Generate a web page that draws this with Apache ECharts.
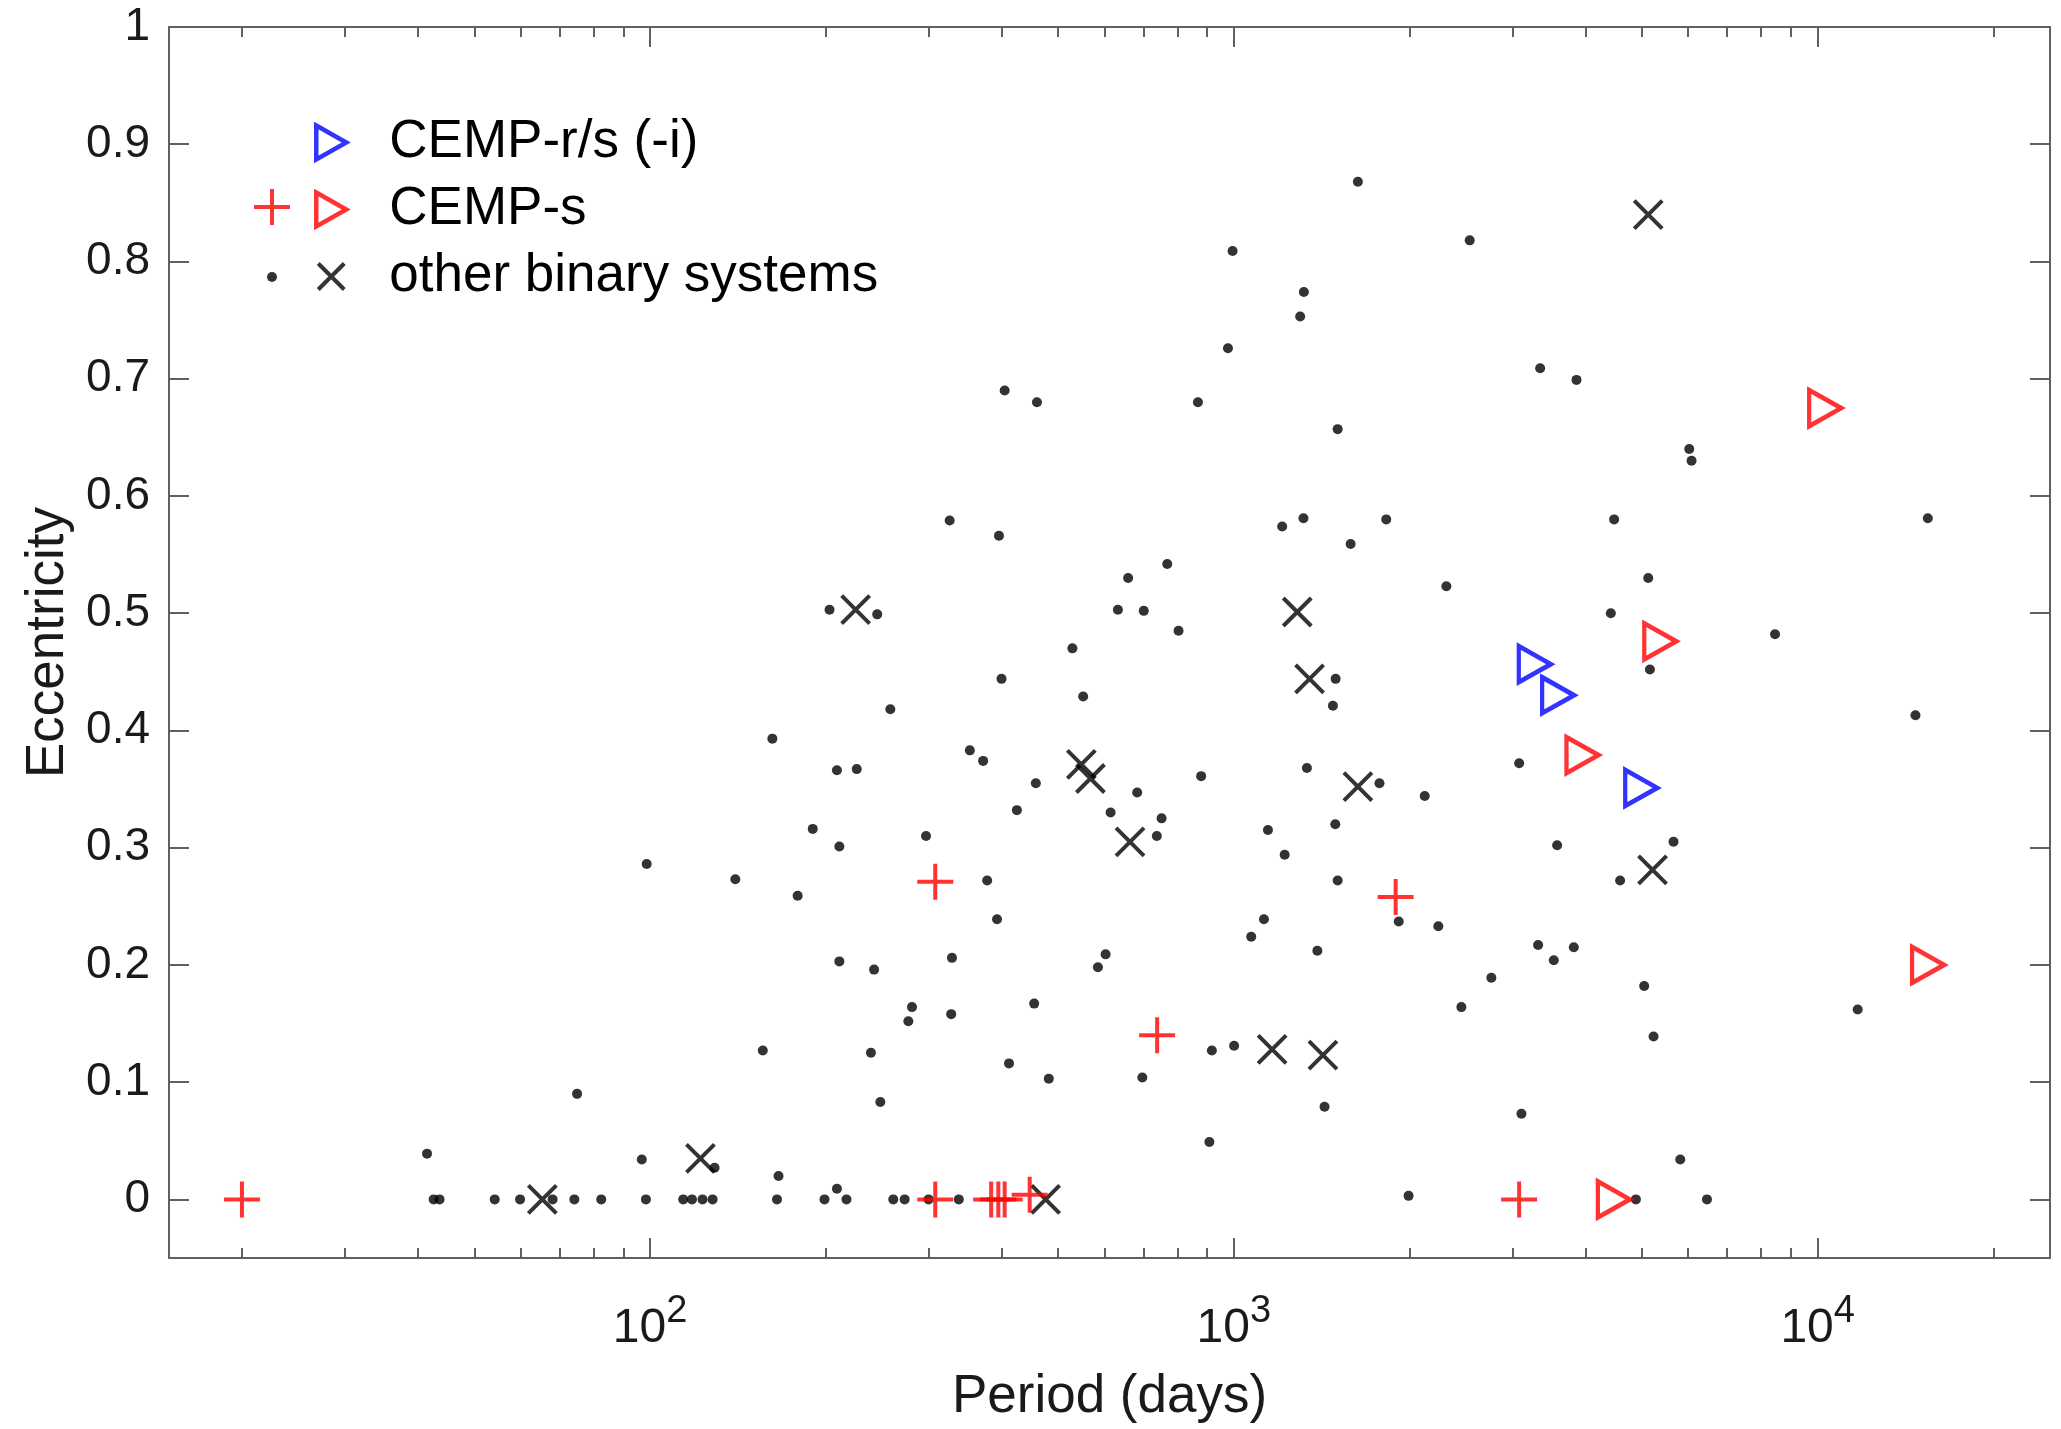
<!DOCTYPE html>
<html>
<head>
<meta charset="utf-8">
<script src="https://cdn.jsdelivr.net/npm/echarts@6/dist/echarts.min.js"></script>
<style>
html,body{margin:0;padding:0;background:#fff;}
#chart{width:2061px;height:1429px;}
</style>
</head>
<body>
<div id="chart"></div>
<script>
// ---------------- data (period in days, eccentricity) ----------------
const otherDots = [
  [405,0.690],[460,0.680],[1631,0.868],[995,0.809],[2535,0.818],[1318,0.774],[1299,0.753],
  [977,0.726],[868,0.680],[1506,0.657],[3347,0.709],[3863,0.699],
  [326,0.579],[396,0.566],[203,0.503],[245,0.499],[529,0.470],[400,0.444],[552,0.429],
  [258,0.418],[162,0.393],[353,0.383],[372,0.374],[209,0.366],[226,0.367],[458,0.355],
  [425,0.332],[615,0.330],[190,0.316],[297,0.310],[211,0.301],
  [1210,0.574],[1316,0.581],[1824,0.580],[1585,0.559],[769,0.542],[659,0.530],[633,0.503],
  [701,0.502],[804,0.485],[2312,0.523],[1494,0.444],[1478,0.421],[3081,0.372],[1334,0.368],
  [1776,0.355],[2123,0.344],[879,0.361],[683,0.347],[752,0.325],[738,0.310],[1144,0.315],
  [1492,0.320],[3579,0.302],[1222,0.294],
  [6026,0.640],[6081,0.630],[4481,0.580],[15440,0.581],[5126,0.530],[4423,0.500],[8452,0.482],
  [5160,0.452],[14706,0.413],[5664,0.305],
  [41.5,0.039],[75,0.090],[96.8,0.034],[98.7,0.286],[140,0.273],[179,0.259],[378,0.272],
  [393,0.239],[211,0.203],[242,0.196],[329,0.206],[585,0.198],[603,0.209],[281,0.164],
  [277,0.152],[328,0.158],[455,0.167],[156,0.127],[239,0.125],[412,0.116],[482,0.103],
  [248,0.083],[129,0.027],[166,0.020],[209,0.009],
  [1506,0.272],[1916,0.237],[2240,0.233],[1126,0.239],[1071,0.224],[1390,0.212],[3320,0.217],
  [3532,0.204],[3822,0.215],[2761,0.189],[2453,0.164],[697,0.104],[917,0.127],[1001,0.131],
  [1430,0.079],[908,0.049],[3109,0.073],[1992,0.003],
  [4588,0.272],[5045,0.182],[5235,0.139],[11710,0.162],[5816,0.034],
  [42.6,0],[43.6,0],[54.2,0],[59.9,0],[68.1,0],[74.2,0],[82.5,0],[98.4,0],[114,0],[118,0],
  [123,0],[128,0],[165,0],[199,0],[217,0],[261,0],[273,0],[300,0],[338,0],[4883,0],[6462,0]
];
const otherCrosses = [
  [5126,0.840],[225,0.503],[548,0.371],[568,0.359],[1284,0.501],[1348,0.444],[1631,0.352],
  [664,0.305],[1163,0.128],[1421,0.123],[5214,0.281],[122,0.035],[65.4,0],[476,0]
];
const cempSPlus = [
  [20,0],[308,0.271],[1893,0.258],[739,0.140],[308,0],[384,0],[395,0],[405,0],[447,0.004],[3081,0]
];
const cempSTri = [[10300,0.675],[5375,0.476],[3955,0.379],[15455,0.200],[4476,0]];
const cempRSTri = [[3277,0.4565],[3593,0.430],[4986,0.351]];

const xMajorTicks = [100, 1000, 10000];
const xMinorTicks = [20,30,40,50,60,70,80,90,200,300,400,500,600,700,800,900,
                     2000,3000,4000,5000,6000,7000,8000,9000,20000];
const yTicks = [0,0.1,0.2,0.3,0.4,0.5,0.6,0.7,0.8,0.9,1];

// ---------------- styling ----------------
const FONT = 'Liberation Sans, Arial, Helvetica, sans-serif';
const RED = '#ff0000';
const BLUE = '#0000ff';
const AXIS = '#606060';
const TXT = '#1a1a1a';
const NONE = 'rgba(0,0,0,0)';

const TRI = 'path://M0,0 L36,20 L0,40 Z';
const PLUS = 'path://M18,0 L18,36 M0,18 L36,18';
const CROSS = 'path://M0,0 L26,26 M26,0 L0,26';
const TRI_LEG = 'path://M0,0 M40,40 M5,3 L35,20 L5,37 Z';
const PLUS_LEG = 'path://M0,0 M40,40 M20,2 L20,38 M2,20 L38,20';
const CROSS_LEG = 'path://M0,0 M40,40 M7,7 L33,33 M33,7 L7,33';
const DOT_LEG = 'path://M0,0 M40,40 M15,20 A5,5 0 1 1 25,20 A5,5 0 1 1 15,20 Z';

function xAxisDef(pos, ticks, len, major, withLabels) {
  return {
    type: 'log', logBase: 10, min: 15, max: 25000, position: pos, gridIndex: 0,
    axisLine: { show: major, onZero: false, lineStyle: { color: AXIS, width: 2 } },
    axisTick: { show: true, inside: true, length: len, customValues: ticks,
                lineStyle: { color: AXIS, width: 2 } },
    axisLabel: withLabels ? {
      show: true, customValues: ticks, margin: 35,
      formatter: v => '{b|10}{s|' + Math.round(Math.log10(v)) + '}',
      rich: {
        b: { fontSize: 48, fontFamily: FONT, color: TXT, lineHeight: 60, verticalAlign: 'bottom' },
        s: { fontSize: 38, fontFamily: FONT, color: TXT, lineHeight: 38, verticalAlign: 'top' }
      }
    } : { show: false },
    splitLine: { show: false },
    name: withLabels ? 'Period (days)' : '',
    nameLocation: 'middle', nameGap: 113,
    nameTextStyle: { fontSize: 53, fontFamily: FONT, color: TXT }
  };
}

const chart = echarts.init(document.getElementById('chart'), null, { renderer: 'canvas' });
chart.setOption({
  animation: false,
  backgroundColor: '#fff',
  grid: { left: 169, right: 11, top: 27, bottom: 170, containLabel: false },
  xAxis: [
    xAxisDef('bottom', xMajorTicks, 20, true, true),
    xAxisDef('bottom', xMinorTicks, 10, false, false),
    xAxisDef('top', xMajorTicks, 20, true, false),
    xAxisDef('top', xMinorTicks, 10, false, false)
  ],
  yAxis: [
    {
      type: 'value', min: -0.05, max: 1, position: 'left',
      axisLine: { show: true, onZero: false, lineStyle: { color: AXIS, width: 2 } },
      axisTick: { show: true, inside: true, length: 20, customValues: yTicks, lineStyle: { color: AXIS, width: 2 } },
      axisLabel: { show: true, customValues: yTicks, margin: 19, fontSize: 46, fontFamily: FONT, color: TXT,
                   formatter: v => String(Number(v.toFixed(1))) },
      splitLine: { show: false },
      name: 'Eccentricity', nameLocation: 'middle', nameGap: 93,
      nameTextStyle: { fontSize: 53, fontFamily: FONT, color: TXT }
    },
    {
      type: 'value', min: -0.05, max: 1, position: 'right',
      axisLine: { show: true, onZero: false, lineStyle: { color: AXIS, width: 2 } },
      axisTick: { show: true, inside: true, length: 20, customValues: yTicks, lineStyle: { color: AXIS, width: 2 } },
      axisLabel: { show: false },
      splitLine: { show: false }
    }
  ],
  legend: [
    {
      orient: 'vertical', left: 304, top: 111, itemWidth: 40, itemHeight: 40, itemGap: 14,
      selectedMode: false, symbolRotate: 0,
      data: [
        { name: 'CEMP-r/s (-i)', icon: TRI_LEG, itemStyle: { color: NONE, borderColor: BLUE, borderWidth: 4.5 } },
        { name: 'CEMP-s', icon: TRI_LEG, itemStyle: { color: NONE, borderColor: RED, borderWidth: 4.5 } },
        { name: 'other binary systems', icon: CROSS_LEG, itemStyle: { color: NONE, borderColor: '#000', borderWidth: 4 } }
      ],
      formatter: n => '{sp|}{t|' + n + '}',
      textStyle: { rich: {
        sp: { width: 33, lineHeight: 40 },
        t: { fontSize: 53, fontFamily: FONT, color: '#000', lineHeight: 40 }
      } }
    },
    {
      orient: 'vertical', left: 245, top: 180, itemWidth: 40, itemHeight: 40, itemGap: 28,
      selectedMode: false, symbolRotate: 0,
      data: [
        { name: 'CEMP-s plus', icon: PLUS_LEG, itemStyle: { color: NONE, borderColor: RED, borderWidth: 4 } },
        { name: 'other binary systems dots', icon: DOT_LEG, itemStyle: { color: '#000', borderColor: '#000', borderWidth: 0 } }
      ],
      formatter: () => '',
      textStyle: { fontSize: 10, lineHeight: 40 }
    }
  ],
  series: [
    { name: 'other binary systems dots', type: 'scatter', data: otherDots, symbol: 'circle', symbolSize: 10,
      itemStyle: { color: '#000' }, emphasis: { disabled: true }, z: 2 },
    { name: 'other binary systems', type: 'scatter', data: otherCrosses, symbol: CROSS, symbolSize: 28,
      itemStyle: { color: NONE, borderColor: '#000', borderWidth: 4 }, emphasis: { disabled: true }, z: 3 },
    { name: 'CEMP-s plus', type: 'scatter', data: cempSPlus, symbol: PLUS, symbolSize: 36,
      itemStyle: { color: NONE, borderColor: RED, borderWidth: 4 }, emphasis: { disabled: true }, z: 4 },
    { name: 'CEMP-s', type: 'scatter', data: cempSTri, symbol: TRI, symbolSize: [32, 36],
      itemStyle: { color: NONE, borderColor: RED, borderWidth: 4.5 }, emphasis: { disabled: true }, z: 5 },
    { name: 'CEMP-r/s (-i)', type: 'scatter', data: cempRSTri, symbol: TRI, symbolSize: [32, 36],
      itemStyle: { color: NONE, borderColor: BLUE, borderWidth: 4.5 }, emphasis: { disabled: true }, z: 6 }
  ]
});
</script>
</body>
</html>
